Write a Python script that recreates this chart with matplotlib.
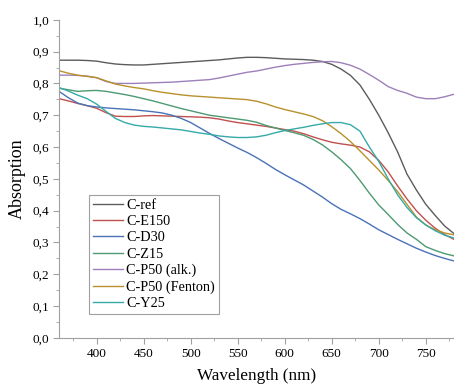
import matplotlib
matplotlib.use("Agg")
import matplotlib.pyplot as plt
from matplotlib.ticker import MultipleLocator, FuncFormatter

plt.rcParams["font.family"] = ["Liberation Serif", "DejaVu Serif"]

# Data (absorption every 10 nm, 360-780 nm)
wavelength = list(range(360, 790, 10))

c_ref = [0.873, 0.873, 0.873, 0.872, 0.870, 0.865, 0.861, 0.859, 0.858, 0.858,
         0.860, 0.862, 0.864, 0.866, 0.868, 0.870, 0.872, 0.874, 0.877, 0.880,
         0.882, 0.882, 0.881, 0.879, 0.877, 0.876, 0.875, 0.873, 0.869, 0.860,
         0.845, 0.825, 0.795, 0.750, 0.700, 0.645, 0.585, 0.515, 0.465, 0.420,
         0.385, 0.352, 0.328]
c_e150 = [0.752, 0.745, 0.737, 0.730, 0.722, 0.708, 0.697, 0.696, 0.696, 0.698,
          0.699, 0.698, 0.697, 0.696, 0.695, 0.694, 0.692, 0.688, 0.682, 0.677,
          0.673, 0.669, 0.665, 0.660, 0.655, 0.650, 0.642, 0.632, 0.623, 0.615,
          0.610, 0.606, 0.600, 0.585, 0.558, 0.522, 0.478, 0.437, 0.400, 0.370,
          0.345, 0.325, 0.310]
c_d30 = [0.775, 0.755, 0.738, 0.730, 0.726, 0.723, 0.721, 0.719, 0.717, 0.714,
         0.711, 0.707, 0.700, 0.690, 0.677, 0.660, 0.643, 0.627, 0.612, 0.597,
         0.583, 0.567, 0.549, 0.530, 0.513, 0.497, 0.481, 0.462, 0.443, 0.422,
         0.404, 0.390, 0.375, 0.358, 0.340, 0.325, 0.310, 0.296, 0.282, 0.270,
         0.259, 0.250, 0.242]
c_z15 = [0.785, 0.780, 0.775, 0.777, 0.778, 0.775, 0.770, 0.765, 0.759, 0.752,
         0.745, 0.737, 0.729, 0.721, 0.714, 0.707, 0.700, 0.696, 0.692, 0.688,
         0.684, 0.678, 0.668, 0.660, 0.652, 0.645, 0.637, 0.624, 0.607, 0.585,
         0.560, 0.532, 0.495, 0.455, 0.418, 0.388, 0.357, 0.330, 0.310, 0.287,
         0.275, 0.265, 0.258]
c_p50_alk = [0.826, 0.826, 0.825, 0.823, 0.818, 0.806, 0.800, 0.800, 0.800, 0.801,
             0.802, 0.803, 0.804, 0.806, 0.808, 0.810, 0.812, 0.817, 0.823, 0.829,
             0.835, 0.839, 0.845, 0.851, 0.856, 0.860, 0.863, 0.866, 0.868, 0.869,
             0.865, 0.857, 0.845, 0.828, 0.810, 0.790, 0.778, 0.769, 0.757, 0.752,
             0.752, 0.758, 0.766]
c_p50_fenton = [0.840, 0.832, 0.826, 0.822, 0.818, 0.808, 0.798, 0.792, 0.787, 0.783,
                0.777, 0.772, 0.768, 0.764, 0.761, 0.759, 0.757, 0.755, 0.753, 0.751,
                0.749, 0.744, 0.736, 0.726, 0.718, 0.711, 0.704, 0.696, 0.683, 0.664,
                0.642, 0.617, 0.588, 0.558, 0.528, 0.495, 0.460, 0.420, 0.380, 0.355,
                0.340, 0.330, 0.324]
c_y25 = [0.787, 0.776, 0.763, 0.752, 0.735, 0.712, 0.690, 0.677, 0.669, 0.665,
         0.663, 0.660, 0.657, 0.654, 0.649, 0.644, 0.640, 0.635, 0.632, 0.630,
         0.630, 0.632, 0.637, 0.645, 0.652, 0.657, 0.662, 0.668, 0.673, 0.677,
         0.677, 0.670, 0.650, 0.600, 0.555, 0.500, 0.450, 0.410, 0.378, 0.355,
         0.337, 0.323, 0.314]

series = [
    ("C-ref", c_ref, "#5c5c5c"),
    ("C-E150", c_e150, "#c0504d"),
    ("C-D30", c_d30, "#4a72b8"),
    ("C-Z15", c_z15, "#4d9a72"),
    ("C-P50 (alk.)", c_p50_alk, "#9d80b9"),
    ("C-P50 (Fenton)", c_p50_fenton, "#b8912c"),
    ("C-Y25", c_y25, "#36a9a9"),
]

fig = plt.figure(figsize=(4.54, 3.88), dpi=100)
ax = fig.add_axes([0.130, 0.129, 0.870, 0.820])

for name, vals, col in series:
    ax.plot(wavelength, vals, color=col, lw=1.0, label=name)

ax.set_xlim(360, 780)
ax.set_ylim(0, 1.0)
ax.xaxis.set_major_locator(MultipleLocator(50))
ax.xaxis.set_minor_locator(MultipleLocator(25))
ax.yaxis.set_major_locator(MultipleLocator(0.1))
ax.yaxis.set_minor_locator(MultipleLocator(0.05))
ax.yaxis.set_major_formatter(FuncFormatter(lambda v, p: f"{v:.1f}".replace(".", ",")))

for s in ["top", "right"]:
    ax.spines[s].set_visible(False)
for s in ["left", "bottom"]:
    ax.spines[s].set_color("#a0a0a0")
ax.tick_params(which="major", length=4, color="#a0a0a0", labelsize=9.5, pad=3)
ax.tick_params(which="minor", length=2.5, color="#a0a0a0")

ax.set_xlabel("Wavelength (nm)", fontsize=12.3, labelpad=6)
ax.set_ylabel("Absorption", fontsize=13, labelpad=5)

leg = ax.legend(loc="upper left", bbox_to_anchor=(0.076, 0.45), borderaxespad=0,
                fontsize=10.3, fancybox=False, framealpha=1, edgecolor="#a0a0a0",
                handlelength=2.1, handletextpad=0.2, labelspacing=0.22,
                borderpad=0.3)
leg.get_frame().set_linewidth(0.8)

fig.savefig("out.png", dpi=100)
